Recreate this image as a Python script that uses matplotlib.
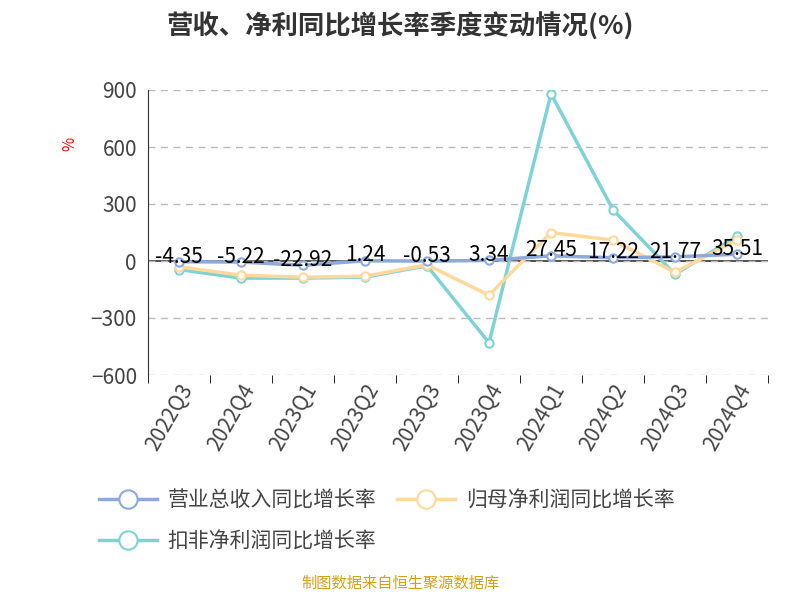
import matplotlib.pyplot as plt
import numpy as np

plt.rcParams['font.family'] = ['Noto Sans CJK SC', 'DejaVu Sans']

quarters = ['2022Q3', '2022Q4', '2023Q1', '2023Q2', '2023Q3',
            '2023Q4', '2024Q1', '2024Q2', '2024Q3', '2024Q4']
revenue = [-4.35, -5.22, -22.92, 1.24, -0.53, 3.34, 27.45, 17.22, 21.77, 35.51]
net_profit = [-30, -75, -85, -80, -20, -180, 150, 110, -60, 110]
deducted = [-45, -90, -90, -85, -25, -430, 880, 270, -70, 130]

names = ['营业总收入同比增长率', '归母净利润同比增长率', '扣非净利润同比增长率']
colors = ['#8eaadb', '#ffd89b', '#7fd3d6']

fig = plt.figure(figsize=(8, 6), dpi=100)
ax = fig.add_axes([0.185, 0.375, 0.775, 0.475])
x = np.arange(len(quarters))

for ys, c, n, z in [(deducted, colors[2], names[2], 2), (net_profit, colors[1], names[1], 3),
                    (revenue, colors[0], names[0], 4)]:
    ax.plot(x, ys, color=c, lw=2.5, marker='o', markersize=6,
            markerfacecolor='white', markeredgecolor=c, markeredgewidth=1.5,
            label=n, zorder=z)

for xi, v in zip(x, revenue):
    ax.text(xi, v - 30, f'{v:.2f}', ha='center', va='bottom', fontsize=15, zorder=6)

ax.set_xlim(-0.5, len(quarters) - 0.5)
ax.set_ylim(-600, 900)
ax.set_yticks([-600, -300, 0, 300, 600, 900])
ax.tick_params(axis='y', labelsize=15, colors='#444444', length=0, pad=8)
ax.set_xticks(x)
ax.set_xticklabels(quarters, rotation=60, ha='right', rotation_mode='anchor', fontsize=15, color='#444444')
ax.set_xticks(np.arange(-0.5, len(quarters)), minor=True)
ax.tick_params(axis='x', which='major', length=0)
ax.tick_params(axis='x', which='minor', length=6)
ax.grid(axis='y', linestyle=(0, (5, 4)), color='#bbbbbb', lw=1)
for s in ['top', 'right', 'bottom']:
    ax.spines[s].set_visible(False)
ax.spines['left'].set_color('#333333')
ax.axhline(0, color='#333333', lw=1.2, zorder=1)
ax.text(-0.14, 0.8, '%', transform=ax.transAxes, color='red', fontsize=11, rotation=90)

fig.text(0.5, 0.955, '营收、净利同比增长率季度变动情况(%)', ha='center', va='center',
         fontsize=19, fontweight='bold', color='#333333')
handles, labels = ax.get_legend_handles_labels()
order = [2, 0, 1]
fig.legend([handles[i] for i in order], [labels[i] for i in order], loc='upper left',
           bbox_to_anchor=(0.1, 0.215), ncol=2, frameon=False, fontsize=15,
           handlelength=2.8, markerscale=2.2, columnspacing=1.0, handletextpad=0.5,
           labelspacing=0.9, labelcolor='#444444')
fig.text(0.5, 0.02, '制图数据来自恒生聚源数据库', ha='center', fontsize=11, color='#d4a017')
fig.savefig('out.png')
